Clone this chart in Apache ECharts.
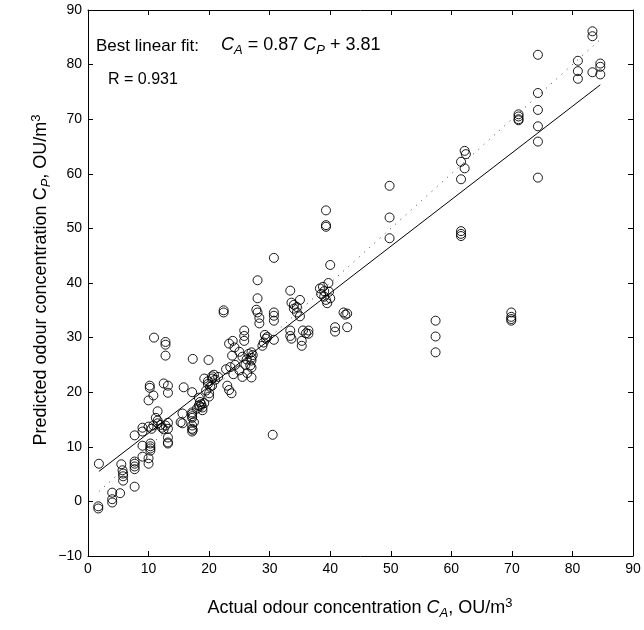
<!DOCTYPE html>
<html>
<head>
<meta charset="utf-8">
<script src="https://cdn.jsdelivr.net/npm/echarts@6/dist/echarts.min.js"></script>
<style>
html,body{margin:0;padding:0;background:#fff;}
#chart{width:644px;height:630px;}
</style>
</head>
<body>
<div id="chart"></div>
<script>
// Actual odour concentration C_A (x) and predicted C_P (y)
var actualX = [
1.8,1.7,1.7,4.0,4.0,4.0,5.5,5.7,5.8,5.8,5.8,5.3,7.7,7.7,7.7,7.7,7.7,7.7,9.0,9.0,
9.0,9.0,10.0,10.0,10.3,10.3,10.3,10.3,10.0,10.5,10.8,11.5,11.5,12.2,12.5,12.8,13.2,13.2,13.2,13.2,
13.2,11.5,10.0,10.8,10.2,10.2,12.5,13.2,13.2,10.9,12.8,12.8,12.8,15.8,15.6,15.6,11.2,12.0,
17.2,17.2,17.2,17.2,17.2,17.2,17.2,17.2,18.3,18.5,18.7,18.9,18.9,18.5,19.2,20.0,20.0,20.2,20.5,19.8,
17.3,19.9,20.5,19.2,19.8,20.5,21.0,20.8,21.5,19.5,18.3,18.0,17.5,17.3,15.3,23.0,23.3,23.7,22.8,23.5,
24.3,25.0,26.0,26.3,27.0,27.0,25.5,24.0,30.5,
22.4,22.4,23.3,23.9,24.2,23.8,25.8,25.8,25.8,25.0,25.5,26.2,26.5,27.0,27.0,27.0,26.8,27.2,27.8,28.0,
28.3,28.3,28.0,28.0,29.2,29.4,29.0,28.8,30.7,30.7,30.7,30.7,30.7,29.6,
33.4,33.6,34.0,34.5,34.0,34.5,35.0,35.0,33.4,33.4,33.6,35.3,35.3,35.5,36.0,36.4,36.4,
38.3,38.8,38.5,39.0,39.3,39.7,39.8,40.0,39.5,39.0,40.0,39.3,39.3,39.3,40.8,40.8,42.2,42.5,42.8,42.8,
49.8,49.8,49.8,57.4,57.4,57.4,61.6,61.6,61.6,62.2,62.4,61.6,62.2,61.6,
69.9,69.9,69.9,69.9,71.1,71.1,71.1,71.1,74.3,74.3,74.3,74.3,74.3,74.3,
80.9,80.9,80.9,83.3,83.3,83.3,84.6,84.6,84.6
];
var predictedY = [
6.9,-0.9,-1.3,1.6,0.4,-0.2,6.8,5.7,5.1,4.6,3.8,1.5,7.3,6.9,6.4,5.9,2.7,12.1,13.5,12.8,
10.2,8.2,7.9,6.9,10.6,10.1,9.7,9.3,13.7,13.3,13.9,14.8,14.3,13.5,13.2,13.9,14.4,13.3,11.7,10.8,
10.6,16.5,18.5,19.4,21.2,20.8,21.6,21.2,19.9,30.0,29.2,28.7,26.7,20.9,16.1,14.3,15.3,14.0,
16.3,16.0,15.6,15.3,13.9,13.3,12.8,20.0,19.0,18.2,17.8,17.2,16.7,17.4,18.0,19.8,19.2,21.0,22.5,22.0,
26.1,25.9,22.9,22.5,21.5,21.2,22.3,23.2,22.8,20.3,17.6,17.0,14.5,13.1,14.5,21.2,20.4,19.8,24.2,24.6,
25.0,24.0,25.0,23.5,24.5,22.7,22.8,23.3,12.2,
35.0,34.6,28.9,29.4,28.2,26.7,31.3,30.3,29.4,27.4,26.5,26.0,27.0,27.3,26.3,25.8,24.9,26.8,35.1,34.6,
33.6,32.6,40.5,37.2,30.5,29.8,29.1,28.5,29.6,34.6,34.0,33.1,44.6,30.1,
38.6,36.4,36.0,35.6,35.3,34.6,33.9,36.9,31.3,30.3,29.8,29.4,28.5,31.3,30.8,31.3,30.7,
39.0,39.3,38.0,37.5,36.9,40.0,38.4,37.2,36.3,38.5,43.3,53.3,50.6,50.3,31.9,31.1,34.6,34.2,34.4,31.9,
57.8,52.0,48.2,33.1,30.2,27.3,49.5,49.0,48.6,64.2,63.6,62.2,61.0,59.0,
34.6,33.8,33.4,33.1,70.9,70.5,70.0,69.8,81.8,74.8,71.7,68.7,65.9,59.3,
80.7,78.8,77.4,86.1,85.2,78.6,80.2,79.6,78.2
];
// Best linear fit line end points
var fitX = [1.8, 84.6];
var fitY = [5.5, 76.3];
// Perfect agreement line (C_P = C_A)
var idealX = [1.8, 84.6];
var idealY = [1.8, 84.6];
// Axis ranges / ticks
var xTicks = {min: 0, max: 90, step: 10};
var yTicks = {min: -10, max: 90, step: 10};

var FONT = '"Liberation Sans", Arial, Helvetica, sans-serif';
var pts = actualX.map(function (x, i) { return [x, predictedY[i]]; });
var fitData = fitX.map(function (x, i) { return [x, fitY[i]]; });
var idealData = idealX.map(function (x, i) { return [x, idealY[i]]; });

function minusFmt(v) { return String(v).replace('-', '\u2212'); }

var axisCommon = {
  type: 'value',
  splitLine: {show: false},
  axisLine: {show: true, onZero: false, lineStyle: {color: '#000', width: 1}},
  axisTick: {show: true, inside: true, length: 5, lineStyle: {color: '#000', width: 1}}
};

var chart = echarts.init(document.getElementById('chart'), null, {renderer: 'canvas'});
chart.setOption({
  animation: false,
  backgroundColor: '#fff',
  grid: {left: 88, right: 11, top: 10, bottom: 74, containLabel: false},
  xAxis: [
    Object.assign({}, axisCommon, {
      position: 'bottom', min: xTicks.min, max: xTicks.max, interval: xTicks.step,
      axisLabel: {color: '#000', fontSize: 14, fontFamily: FONT, margin: 6, formatter: minusFmt}
    }),
    Object.assign({}, axisCommon, {
      position: 'top', min: xTicks.min, max: xTicks.max, interval: xTicks.step,
      axisLabel: {show: false}
    })
  ],
  yAxis: [
    Object.assign({}, axisCommon, {
      position: 'left', min: yTicks.min, max: yTicks.max, interval: yTicks.step,
      axisLabel: {color: '#000', fontSize: 14, fontFamily: FONT, margin: 6, formatter: minusFmt}
    }),
    Object.assign({}, axisCommon, {
      position: 'right', min: yTicks.min, max: yTicks.max, interval: yTicks.step,
      axisLabel: {show: false}
    })
  ],
  series: [
    {
      type: 'line', data: idealData, symbol: 'none', silent: true,
      lineStyle: {color: '#444', width: 1, type: [1, 6]}
    },
    {
      type: 'line', data: fitData, symbol: 'none', silent: true,
      lineStyle: {color: '#000', width: 1, type: 'solid'}
    },
    {
      type: 'scatter', data: pts, symbol: 'circle', symbolSize: 9, silent: true,
      itemStyle: {color: 'rgba(0,0,0,0)', borderColor: '#000', borderWidth: 0.9, opacity: 1}
    }
  ],
  graphic: [
    {
      type: 'text', left: 96, top: 38,
      style: {text: 'Best linear fit:', fontSize: 17, fontFamily: FONT, fill: '#000'}
    },
    {
      type: 'text', left: 221, top: 36,
      style: {
        text: '{i|C}{sub|A} = 0.87 {i|C}{sub|P} + 3.81',
        fontSize: 18, fontFamily: FONT, fill: '#000',
        rich: {
          i: {fontSize: 18, fontStyle: 'italic', fontFamily: FONT},
          sub: {fontSize: 13, fontStyle: 'italic', fontFamily: FONT, padding: [10, 0, 0, 0]}
        }
      }
    },
    {
      type: 'text', left: 108, top: 72,
      style: {text: 'R = 0.931', fontSize: 16, fontFamily: FONT, fill: '#000'}
    },
    {
      type: 'text', x: 360, y: 608,
      style: {
        text: 'Actual odour concentration {i|C}{sub|A}, OU/m{sup|3}',
        fontSize: 18, fontFamily: FONT, fill: '#000', align: 'center', verticalAlign: 'middle',
        rich: {
          i: {fontSize: 18, fontStyle: 'italic', fontFamily: FONT},
          sub: {fontSize: 13, fontStyle: 'italic', fontFamily: FONT, padding: [10, 0, 0, 0]},
          sup: {fontSize: 13, fontFamily: FONT, padding: [0, 0, 10, 0]}
        }
      }
    },
    {
      type: 'text', x: 41, y: 280, rotation: Math.PI / 2,
      style: {
        text: 'Predicted odour concentration C{sub|P}, OU/m{sup|3}',
        fontSize: 18, fontFamily: FONT, fill: '#000', align: 'center', verticalAlign: 'middle',
        rich: {
          sub: {fontSize: 13, fontStyle: 'italic', fontFamily: FONT, padding: [10, 0, 0, 0]},
          sup: {fontSize: 13, fontFamily: FONT, padding: [0, 0, 10, 0]}
        }
      }
    }
  ]
});
</script>
</body>
</html>
